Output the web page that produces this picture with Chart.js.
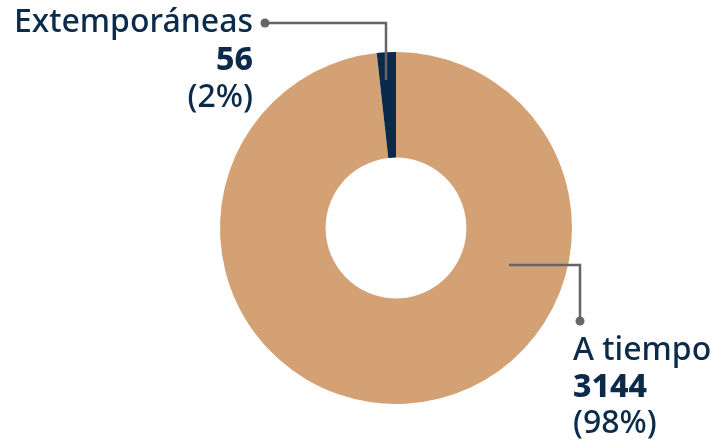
<!DOCTYPE html>
<html>
<head>
<meta charset="utf-8">
<script src="https://cdn.jsdelivr.net/npm/chart.js@4"></script>
<style>
  html, body { margin: 0; padding: 0; background: #fff; }
  #wrap { width: 726px; height: 443px; }
</style>
</head>
<body>
<div id="wrap"><canvas id="chart" width="726" height="443"></canvas></div>
<script>
const categories = ['A tiempo', 'Extemporáneas'];
const values = [3144, 56];
const percents = ['98%', '2%'];
const colors = ['#d4a174', '#0b2a4a'];

const textColor = '#0c2b4b';
const lineColor = '#666666';
const fontFamily = '"Noto Sans", "Open Sans", sans-serif';
const fontSize = 32;

// Draws the leader lines and the labels beside the ring
const calloutPlugin = {
    id: 'callouts',
    afterDraw(chart) {
        const ctx = chart.ctx;
        const arcs = chart.getDatasetMeta(0).data;
        const cx = arcs[0].x;
        const cy = arcs[0].y;

        ctx.save();
        ctx.strokeStyle = lineColor;
        ctx.fillStyle = lineColor;
        ctx.lineWidth = 2.5;

        // Extemporáneas: line from slice up and left to the dot
        ctx.beginPath();
        ctx.moveTo(cx - 10, cy - 148);
        ctx.lineTo(cx - 10, cy - 205);
        ctx.lineTo(cx - 131, cy - 205);
        ctx.stroke();
        ctx.beginPath();
        ctx.arc(cx - 131, cy - 205, 4.5, 0, Math.PI * 2);
        ctx.fill();

        // A tiempo: line from ring right and down to the dot
        ctx.beginPath();
        ctx.moveTo(cx + 113, cy + 37);
        ctx.lineTo(cx + 184, cy + 37);
        ctx.lineTo(cx + 184, cy + 93);
        ctx.stroke();
        ctx.beginPath();
        ctx.arc(cx + 184, cy + 93, 4.5, 0, Math.PI * 2);
        ctx.fill();

        ctx.fillStyle = textColor;
        ctx.textBaseline = 'alphabetic';
        const regular = '500 ' + fontSize + 'px ' + fontFamily;
        const bold = '800 ' + fontSize + 'px ' + fontFamily;

        // Extemporáneas block, right aligned
        ctx.textAlign = 'right';
        ctx.font = regular;
        ctx.fillText(categories[1], cx - 143, cy - 196);
        ctx.font = bold;
        ctx.fillText(String(values[1]), cx - 143, cy - 158);
        ctx.font = regular;
        ctx.fillText('(' + percents[1] + ')', cx - 143, cy - 121);

        // A tiempo block, left aligned
        ctx.textAlign = 'left';
        ctx.font = regular;
        ctx.fillText(categories[0], cx + 177, cy + 132);
        ctx.font = bold;
        ctx.fillText(String(values[0]), cx + 177, cy + 169);
        ctx.font = regular;
        ctx.fillText('(' + percents[0] + ')', cx + 177, cy + 205);

        ctx.restore();
    }
};

new Chart(document.getElementById('chart'), {
    type: 'doughnut',
    data: {
        labels: categories,
        datasets: [{
            data: values,
            backgroundColor: colors,
            borderWidth: 0,
            hoverOffset: 0
        }]
    },
    options: {
        responsive: false,
        animation: false,
        cutout: '40%',
        layout: {
            padding: { left: 220, right: 154, top: 52, bottom: 39 }
        },
        plugins: {
            legend: { display: false },
            tooltip: { enabled: false }
        }
    },
    plugins: [calloutPlugin]
});
</script>
</body>
</html>
